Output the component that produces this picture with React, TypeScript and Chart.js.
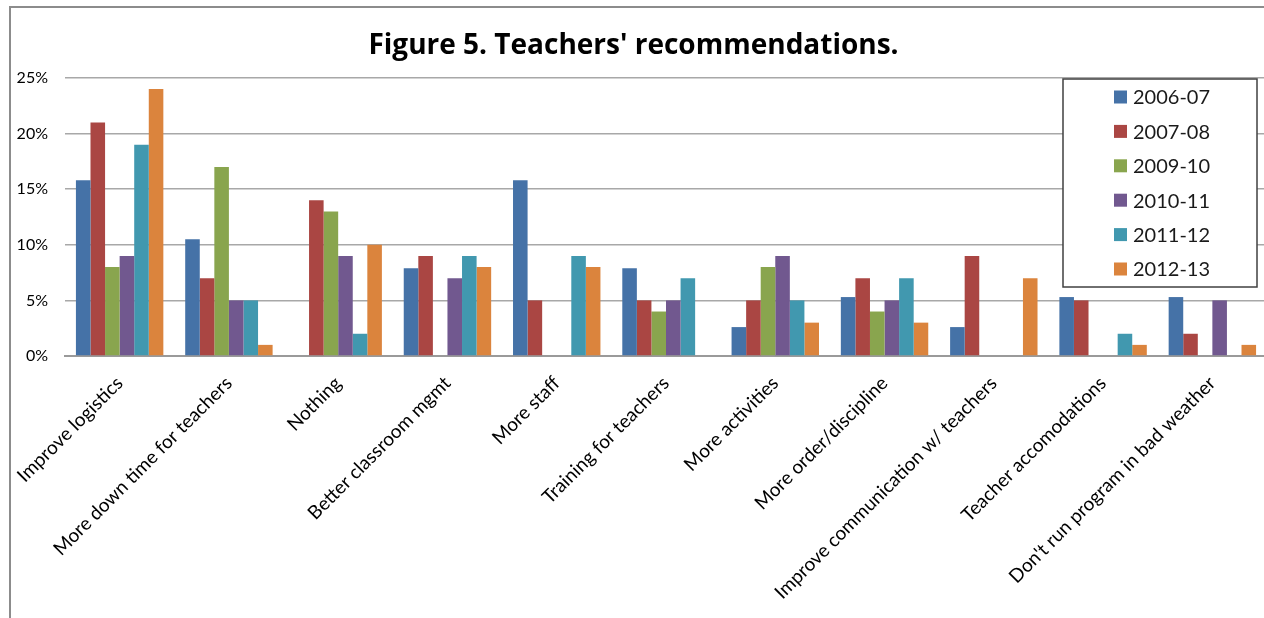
import React, { useEffect, useRef } from "react";
import { Chart, registerables } from "chart.js";

Chart.register(...registerables);

const categories = [
  "Improve logistics",
  "More down time for teachers",
  "Nothing",
  "Better classroom mgmt",
  "More staff",
  "Training for teachers",
  "More activities",
  "More order/discipline",
  "Improve communication w/ teachers",
  "Teacher accomodations",
  "Don't run program in bad weather",
];

const seriesLabels = ["2006-07", "2007-08", "2009-10", "2010-11", "2011-12", "2012-13"];

const y2006 = [15.8, 10.5, 0, 7.9, 15.8, 7.9, 2.6, 5.3, 2.6, 5.3, 5.3];
const y2007 = [21, 7, 14, 9, 5, 5, 5, 7, 9, 5, 2];
const y2009 = [8, 17, 13, 0, 0, 4, 8, 4, 0, 0, 0];
const y2010 = [9, 5, 9, 7, 0, 5, 9, 5, 0, 0, 5];
const y2011 = [19, 5, 2, 9, 9, 7, 5, 7, 0, 2, 0];
const y2012 = [24, 1, 10, 8, 8, 0, 3, 3, 7, 1, 1];

const seriesValues = [y2006, y2007, y2009, y2010, y2011, y2012];
const seriesColors = ["#4572A7", "#AA4643", "#89A54E", "#71588F", "#4198AF", "#DB843D"];

const yMin = 0;
const yMax = 25;
const yStep = 5;

const FONT = "Lato, 'Open Sans', sans-serif";
const TITLE_FONT = "'Open Sans', Lato, sans-serif";

const boxLegend = {
  id: "boxLegend",
  afterDraw(chart: any) {
    const { ctx, chartArea } = chart;
    const right = chartArea.right - 10;
    const left = right - 194;
    const top = chartArea.top + 1;
    const bottom = top + 208;
    ctx.save();
    ctx.fillStyle = "#ffffff";
    ctx.fillRect(left, top, right - left, bottom - top);
    ctx.strokeStyle = "#404040";
    ctx.lineWidth = 1.5;
    ctx.strokeRect(left, top, right - left, bottom - top);
    ctx.font = `20px ${FONT}`;
    ctx.textBaseline = "middle";
    ctx.textAlign = "left";
    chart.data.datasets.forEach((ds: any, i: number) => {
      const cy = top + 18 + i * 34.4;
      ctx.fillStyle = ds.backgroundColor;
      ctx.fillRect(left + 51, cy - 6.5, 13, 13);
      ctx.fillStyle = "#1a1a1a";
      ctx.fillText(ds.label, left + 70, cy + 1);
    });
    ctx.restore();
  },
};

export default function App() {
  const ref = useRef<HTMLCanvasElement | null>(null);

  useEffect(() => {
    if (!ref.current) return;
    const chart = new Chart(ref.current, {
      type: "bar",
      data: {
        labels: categories,
        datasets: seriesLabels.map((label, i) => ({
          label,
          data: seriesValues[i],
          backgroundColor: seriesColors[i],
          borderWidth: 0,
          barPercentage: 1.0,
          categoryPercentage: 0.8,
        })),
      },
      options: {
        animation: false,
        responsive: false,
        maintainAspectRatio: false,
        layout: { padding: { left: 0, right: 5, top: 0, bottom: 0 } },
        plugins: {
          legend: { display: false },
          tooltip: { enabled: false },
          title: {
            display: true,
            text: "Figure 5. Teachers' recommendations.",
            color: "#000000",
            font: { family: TITLE_FONT, size: 28, weight: "bold" },
            padding: { top: 29, bottom: 15.4 },
          },
        },
        scales: {
          x: {
            grid: { display: false, drawTicks: false },
            border: { display: true, color: "#9a9a9a", width: 2 },
            ticks: {
              color: "#000000",
              font: { family: FONT, size: 19 },
              minRotation: 45,
              maxRotation: 45,
              autoSkip: false,
              padding: 16,
            },
            afterFit(scale: any) {
              scale.height = 262;
            },
          },
          y: {
            min: yMin,
            max: yMax,
            grid: { color: "#a8a8a8", lineWidth: 1.5, drawTicks: false },
            border: { display: false },
            ticks: {
              stepSize: yStep,
              color: "#000000",
              font: { family: FONT, size: 16 },
              padding: 17,
              callback: (v: any) => `${v}%`,
            },
            afterFit(scale: any) {
              scale.width = 65;
            },
          },
        },
      },
      plugins: [boxLegend],
    });
    return () => chart.destroy();
  }, []);

  return (
    <div
      style={{
        position: "fixed",
        left: 0,
        top: 0,
        width: 1264,
        height: 618,
        overflow: "hidden",
        background: "#ffffff",
      }}
    >
      <canvas ref={ref} width={1272} height={618} style={{ position: "absolute", left: 0, top: 0 }} />
      <div
        style={{
          position: "absolute",
          left: 9,
          top: 6,
          width: 1300,
          height: 700,
          borderLeft: "2px solid #8c8c8c",
          borderTop: "2px solid #8c8c8c",
          pointerEvents: "none",
        }}
      />
    </div>
  );
}
